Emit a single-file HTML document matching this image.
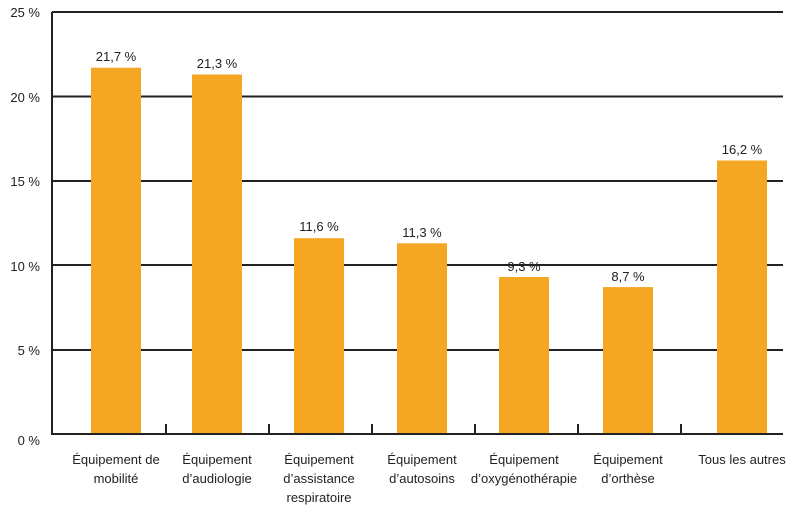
<!DOCTYPE html>
<html><head><meta charset="utf-8"><style>
body{margin:0;background:#fff}
svg text{font-family:"Liberation Sans",sans-serif;font-size:13px;fill:#222}
</style></head><body>
<svg width="795" height="513" viewBox="0 0 795 513">
<g stroke="#222" stroke-width="2">
<line x1="52" y1="12" x2="783" y2="12"/>
<line x1="52" y1="96.5" x2="783" y2="96.5"/>
<line x1="52" y1="181" x2="783" y2="181"/>
<line x1="52" y1="265" x2="783" y2="265"/>
<line x1="52" y1="350" x2="783" y2="350"/>
</g>
<g fill="#F5A623">
<rect x="91" y="67.7" width="50" height="366.3"/>
<rect x="192" y="74.5" width="50" height="359.5"/>
<rect x="294" y="238.2" width="50" height="195.8"/>
<rect x="397" y="243.3" width="50" height="190.7"/>
<rect x="499" y="277" width="50" height="157"/>
<rect x="603" y="287.1" width="50" height="146.9"/>
<rect x="717" y="160.5" width="50" height="273.5"/>
</g>
<g stroke="#222" stroke-width="2">
<line x1="52" y1="12" x2="52" y2="435"/>
<line x1="51" y1="434" x2="783" y2="434"/>
<line x1="166" y1="424" x2="166" y2="434"/>
<line x1="269" y1="424" x2="269" y2="434"/>
<line x1="372" y1="424" x2="372" y2="434"/>
<line x1="475" y1="424" x2="475" y2="434"/>
<line x1="578" y1="424" x2="578" y2="434"/>
<line x1="681" y1="424" x2="681" y2="434"/>
</g>
<g text-anchor="end">
<text x="40" y="17">25 %</text>
<text x="40" y="102">20 %</text>
<text x="40" y="186">15 %</text>
<text x="40" y="271">10 %</text>
<text x="40" y="355">5 %</text>
<text x="40" y="445">0 %</text>
</g>
<g text-anchor="middle">
<text x="116" y="61">21,7 %</text>
<text x="217" y="68">21,3 %</text>
<text x="319" y="231">11,6 %</text>
<text x="422" y="237">11,3 %</text>
<text x="524" y="271">9,3 %</text>
<text x="628" y="281">8,7 %</text>
<text x="742" y="154">16,2 %</text>
<text x="116" y="464">Équipement de</text><text x="116" y="483">mobilité</text>
<text x="217" y="464">Équipement</text><text x="217" y="483">d’audiologie</text>
<text x="319" y="464">Équipement</text><text x="319" y="483">d’assistance</text><text x="319" y="502">respiratoire</text>
<text x="422" y="464">Équipement</text><text x="422" y="483">d’autosoins</text>
<text x="524" y="464">Équipement</text><text x="524" y="483">d’oxygénothérapie</text>
<text x="628" y="464">Équipement</text><text x="628" y="483">d’orthèse</text>
<text x="742" y="464">Tous les autres</text>
</g>
</svg>
</body></html>
